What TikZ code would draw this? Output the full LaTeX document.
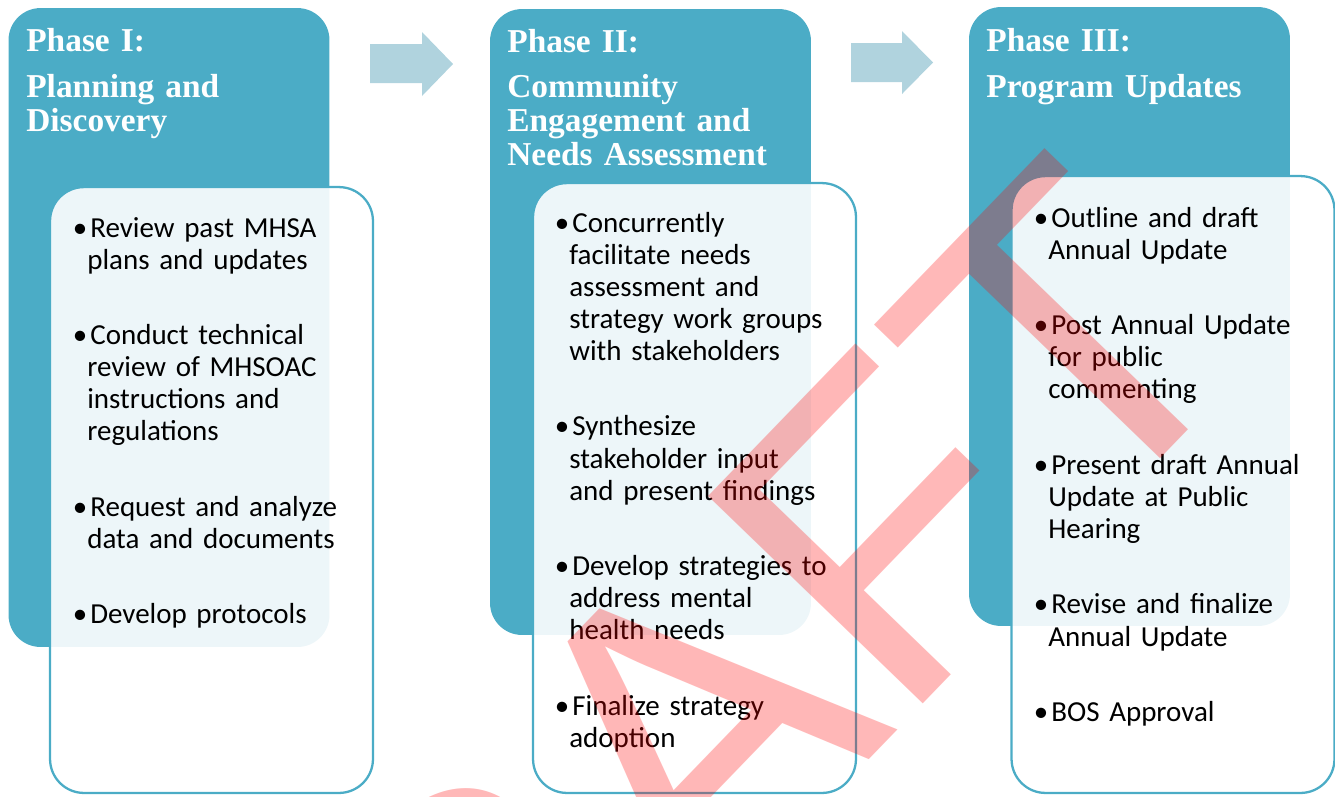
\documentclass[tikz,border=0pt]{standalone}
\usepackage{fontspec}
\setmainfont{Carlito}
\newfontfamily\headfont{Liberation Serif}
\newfontfamily\markfont{Liberation Sans}
\definecolor{phaseteal}{RGB}{75,172,198}
\definecolor{arrowblue}{RGB}{176,211,222}
\newcommand{\itembul}{\leavevmode\llap{\textbullet}\hspace{1.7pt}}

\begin{document}
\begin{tikzpicture}[x=0.02cm, y=-0.02cm,
		phasebox/.style={fill=phaseteal, rounded corners=0.64cm, minimum width=6.42cm, inner sep=0},
		listbox/.style={fill=white, fill opacity=0.9, draw=phaseteal, line width=1.3pt, rounded corners=0.68cm, minimum width=6.46cm, inner sep=0},
		headtext/.style={anchor=base west, inner sep=0, text width=7cm, align=left, text=white, font=\headfont\bfseries\fontsize{19pt}{19.3pt}\selectfont},
		listtext/.style={anchor=base west, inner sep=0, text width=7cm, align=left, font=\fontsize{16.5pt}{18.3pt}\selectfont},
		draftmark/.style={anchor=base west, inner sep=0, rotate=46, text=red, text opacity=0.28, font=\markfont\fontsize{247pt}{247pt}\selectfont}
	]
		\useasboundingbox (0,0) rectangle (1335,796);
		\clip (0,0) rectangle (1335,796);

		\node[phasebox, minimum height=12.78cm] (teal1) at (169,327.5) {};
		\node[phasebox, minimum height=12.52cm] (teal2) at (650.5,322) {};
		\node[phasebox, minimum height=12.38cm] (teal3) at (1129.5,316.5) {};

		\node[listbox, minimum height=12.12cm] (list1) at (211.5,490) {};
		\node[listbox, minimum height=12.2cm] (list2) at (694.5,488) {};
		\node[listbox, minimum height=12.34cm] (list3) at (1173,484.5) {};

		\fill[arrowblue] (370,44) -- (422,44) -- (422,32) -- (453,64) -- (422,96) -- (422,83) -- (370,83) -- cycle;
		\fill[arrowblue] (851,43) -- (902,43) -- (902,31) -- (933,62.5) -- (902,94) -- (902,82) -- (851,82) -- cycle;

		\node[headtext] (head1) at (26,51) {Phase I:\\[7.4pt]Planning and\\Discovery};
		\node[headtext] (head2) at (507,52) {Phase II:\\[6.8pt]Community\\Engagement and\\Needs Assessment};
		\node[headtext] (head3) at (986,51) {Phase III:\\[7pt]Program Updates};

		\node[listtext] (items1) at (87,237) {\itembul Review past MHSA\\plans and updates\\[24.6pt]
			\itembul Conduct technical\\review of MHSOAC\\instructions and\\regulations\\[24.6pt]
			\itembul Request and analyze\\data and documents\\[24.6pt]
			\itembul Develop protocols};
		\node[listtext] (items2) at (569,232) {\itembul Concurrently\\facilitate needs\\assessment and\\strategy work groups\\with stakeholders\\[24.6pt]
			\itembul Synthesize\\stakeholder input\\and present findings\\[24.6pt]
			\itembul Develop strategies to\\address mental\\health needs\\[24.6pt]
			\itembul Finalize strategy\\adoption};
		\node[listtext] (items3) at (1048,227) {\itembul Outline and draft\\Annual Update\\[24.6pt]
			\itembul Post Annual Update\\for public\\commenting\\[24.6pt]
			\itembul Present draft Annual\\Update at Public\\Hearing\\[24.6pt]
			\itembul Revise and finalize\\Annual Update\\[24.6pt]
			\itembul BOS Approval};

		\node[draftmark] (draft) at (262,1389) {DRAFT};
	\end{tikzpicture}
\end{document}
